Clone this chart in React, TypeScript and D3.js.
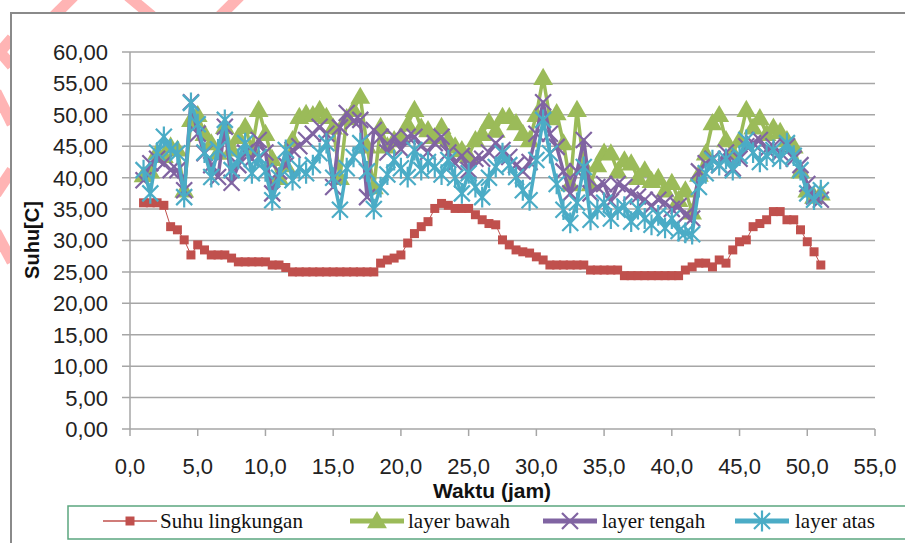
import React from 'react';
import * as d3 from 'd3';

// waktu (jam), one reading every half hour
const hours = [
  1.0, 1.5, 2.0, 2.5, 3.0, 3.5, 4.0, 4.5, 5.0, 5.5,
  6.0, 6.5, 7.0, 7.5, 8.0, 8.5, 9.0, 9.5, 10.0, 10.5,
  11.0, 11.5, 12.0, 12.5, 13.0, 13.5, 14.0, 14.5, 15.0, 15.5,
  16.0, 16.5, 17.0, 17.5, 18.0, 18.5, 19.0, 19.5, 20.0, 20.5,
  21.0, 21.5, 22.0, 22.5, 23.0, 23.5, 24.0, 24.5, 25.0, 25.5,
  26.0, 26.5, 27.0, 27.5, 28.0, 28.5, 29.0, 29.5, 30.0, 30.5,
  31.0, 31.5, 32.0, 32.5, 33.0, 33.5, 34.0, 34.5, 35.0, 35.5,
  36.0, 36.5, 37.0, 37.5, 38.0, 38.5, 39.0, 39.5, 40.0, 40.5,
  41.0, 41.5, 42.0, 42.5, 43.0, 43.5, 44.0, 44.5, 45.0, 45.5,
  46.0, 46.5, 47.0, 47.5, 48.0, 48.5, 49.0, 49.5, 50.0, 50.5,
  51.0,
];

const suhuLingkungan = [
  36.0, 36.0, 36.0, 35.6, 32.2, 31.7, 30.1, 27.7, 29.3, 28.5,
  27.7, 27.7, 27.7, 27.2, 26.6, 26.6, 26.6, 26.6, 26.6, 26.1,
  26.1, 25.7, 25.0, 25.0, 25.0, 25.0, 25.0, 25.0, 25.0, 25.0,
  25.0, 25.0, 25.0, 25.0, 25.0, 26.4, 26.9, 27.2, 27.7, 29.6,
  31.1, 32.2, 33.0, 35.1, 35.9, 35.6, 35.1, 35.1, 35.1, 34.1,
  33.3, 32.7, 32.5, 30.1, 29.3, 28.5, 28.2, 28.0, 27.4, 26.9,
  26.1, 26.1, 26.1, 26.1, 26.1, 26.1, 25.3, 25.3, 25.3, 25.3,
  25.3, 24.4, 24.4, 24.4, 24.4, 24.4, 24.4, 24.4, 24.4, 24.4,
  25.3, 25.8, 26.4, 26.4, 25.8, 26.9, 26.4, 28.5, 29.8, 30.1,
  32.2, 32.7, 33.3, 34.6, 34.6, 33.3, 33.3, 31.7, 29.8, 28.2,
  26.1,
];

const layerBawah = [
  40.4, 41.0, 44.0, 43.5, 45.0, 44.5, 38.0, 49.2, 50.0, 47.0,
  45.5, 44.0, 48.1, 44.5, 46.5, 48.1, 44.5, 50.8, 47.0, 43.0,
  40.0, 42.0, 46.0, 49.7, 50.2, 50.0, 50.8, 49.7, 48.0, 40.0,
  49.5, 50.8, 52.9, 45.0, 38.5, 48.1, 45.0, 46.0, 46.5, 48.5,
  50.8, 48.0, 47.6, 46.5, 48.1, 46.0, 45.0, 44.4, 43.5, 46.0,
  47.0, 48.9, 47.5, 49.7, 49.7, 48.7, 47.0, 46.0, 50.0, 55.9,
  49.5, 50.3, 45.5, 39.0, 50.8, 42.0, 39.0, 42.0, 44.0, 43.9,
  41.0, 42.8, 42.3, 40.0, 41.2, 39.5, 40.0, 38.0, 39.2, 36.5,
  38.0, 34.5, 40.5, 43.9, 48.7, 50.0, 46.0, 44.0, 46.0, 50.8,
  48.0, 49.5, 47.0, 48.0, 47.3, 46.0, 45.0, 41.0, 38.0, 37.0,
  37.5,
];

const layerTengah = [
  39.6, 42.3, 43.0, 42.3, 41.2, 41.2, 38.0, 52.0, 47.0, 43.9,
  42.0, 40.1, 48.1, 39.2, 42.0, 44.0, 43.0, 46.0, 44.0, 37.5,
  41.0, 42.0, 44.4, 45.0, 46.0, 47.0, 48.1, 47.0, 38.5, 48.0,
  50.3, 49.0, 49.2, 36.9, 47.6, 46.5, 44.0, 46.5, 44.5, 46.5,
  46.5, 45.0, 44.1, 45.5, 46.5, 44.0, 42.3, 43.5, 41.2, 43.0,
  43.0, 44.0, 45.5, 44.4, 43.3, 42.0, 41.0, 42.5, 47.0, 52.0,
  47.0, 44.9, 41.0, 37.5, 41.0, 46.0, 37.5, 38.5, 39.0, 36.2,
  39.0, 38.5, 37.5, 37.0, 36.5, 35.5, 36.5, 36.0, 35.0, 35.5,
  34.0, 33.5, 41.0, 42.3, 43.0, 42.0, 44.0, 41.5, 43.0, 45.0,
  45.5, 46.0, 44.5, 45.0, 44.0, 45.0, 43.0, 42.0, 39.0, 37.0,
  36.5,
];

const layerAtas = [
  41.2, 37.5, 44.0, 46.5, 44.5, 43.9, 36.9, 51.9, 48.5, 44.0,
  40.1, 44.5, 49.2, 41.2, 43.0, 45.5, 40.7, 43.3, 41.0, 36.4,
  40.0, 44.4, 39.6, 41.5, 40.7, 42.0, 43.9, 45.5, 40.0, 34.9,
  41.5, 43.3, 45.5, 41.0, 35.0, 38.5, 40.5, 42.8, 41.5, 40.1,
  44.4, 41.2, 42.5, 41.7, 40.5, 42.8, 40.0, 37.5, 40.7, 38.5,
  36.9, 40.0, 41.7, 43.9, 42.0, 40.1, 38.0, 36.4, 42.8, 49.2,
  43.9, 39.0, 34.9, 32.8, 36.0, 41.7, 33.3, 35.0, 36.0, 33.5,
  34.9, 35.4, 33.0, 35.0, 33.5, 32.5, 34.0, 32.0, 33.5, 31.5,
  31.2, 31.0, 38.5, 40.7, 42.8, 42.0, 43.0, 41.2, 43.5, 46.0,
  44.0, 42.5, 43.5, 44.4, 43.0, 45.5, 43.5, 41.2, 37.5, 36.5,
  38.0,
];

const xTicks = [0, 5, 10, 15, 20, 25, 30, 35, 40, 45, 50, 55];
const yTicks = [0, 5, 10, 15, 20, 25, 30, 35, 40, 45, 50, 55, 60];

const seriesNames = ['Suhu lingkungan', 'layer bawah', 'layer tengah', 'layer atas'];

const W = 905;
const H = 543;

const RED = '#C0504D';
const GREEN = '#9BBB59';
const PURPLE = '#8064A2';
const BLUE = '#4BACC6';

const sq = d3.symbol().type(d3.symbolSquare).size(81)();
const tri = d3.symbol().type(d3.symbolTriangle).size(170)();
const xMark = (r: number) => `M${-r},${-r}L${r},${r}M${-r},${r}L${r},${-r}`;
const star = (r: number) => `${xMark(r)}M0,${-r * 1.3}L0,${r * 1.3}`;

type Marker = 'square' | 'triangle' | 'x' | 'star';

function MarkerShape({ kind, color }: { kind: Marker; color: string }) {
  if (kind === 'square') return <path d={sq!} fill={color} />;
  if (kind === 'triangle') return <path d={tri!} fill={color} transform="translate(0,1.5)" />;
  if (kind === 'x') return <path d={xMark(8)} stroke={color} strokeWidth={2.2} fill="none" />;
  return <path d={star(8)} stroke={color} strokeWidth={2.2} fill="none" />;
}

export default function App() {
  const x = d3.scaleLinear().domain([0, 55]).range([130, 875]);
  const y = d3.scaleLinear().domain([0, 60]).range([429, 52]);

  const fmtY = (v: number) => d3.format('.2f')(v).replace('.', ',');
  const fmtX = (v: number) => d3.format('.1f')(v).replace('.', ',');

  const line = d3
    .line<number>()
    .x((_, i) => x(hours[i]))
    .y((d) => y(d));

  const series: { values: number[]; color: string; width: number; marker: Marker }[] = [
    { values: suhuLingkungan, color: RED, width: 1, marker: 'square' },
    { values: layerBawah, color: GREEN, width: 3.5, marker: 'triangle' },
    { values: layerTengah, color: PURPLE, width: 3.5, marker: 'x' },
    { values: layerAtas, color: BLUE, width: 3.5, marker: 'star' },
  ];

  // pink marks peeking out round the frame
  const pink = [
    'M74,-4L54,16', 'M128,-4L152,16', 'M240,-4L220,16',
    'M12,38L0,52L12,66', 'M-4,92L12,124', 'M12,170L-4,194', 'M-4,232L12,262',
  ];

  const legendItems = [
    { lx: 103, tx: 160 },
    { lx: 350, tx: 408 },
    { lx: 543, tx: 602 },
    { lx: 735, tx: 795 },
  ];

  return (
    <svg width={W} height={H} style={{ position: 'absolute', left: 0, top: 0 }}>
      <rect width={W} height={H} fill="#fff" />
      {pink.map((d, i) => (
        <path key={i} d={d} stroke="#ffb4b4" strokeWidth={11} fill="none" />
      ))}
      <rect x={11} y={13} width={W + 10} height={H + 10} fill="#fff" stroke="#8a8a8a" strokeWidth={2} />

      {/* grid */}
      {yTicks.map((t) => (
        <line key={t} x1={122} x2={x(55)} y1={y(t)} y2={y(t)} stroke="#a6a6a6" strokeWidth={1.5} />
      ))}
      <line x1={x(0)} x2={x(0)} y1={y(60)} y2={y(0)} stroke="#a6a6a6" strokeWidth={1.5} />
      {xTicks.map((t) => (
        <line key={t} x1={x(t)} x2={x(t)} y1={y(0)} y2={y(0) + 7} stroke="#a6a6a6" strokeWidth={1.5} />
      ))}

      {/* tick labels */}
      <g fontFamily="'Liberation Sans', Arial, sans-serif" fontSize={22} fill="#222">
        {yTicks.map((t) => (
          <text key={t} x={108} y={y(t)} dy="0.36em" textAnchor="end">
            {fmtY(t)}
          </text>
        ))}
        {xTicks.map((t) => (
          <text key={t} x={x(t)} y={474} textAnchor="middle">
            {fmtX(t)}
          </text>
        ))}
      </g>

      {/* axis titles */}
      <text
        transform="translate(39,240) rotate(-90)"
        textAnchor="middle"
        fontFamily="'Liberation Sans', Arial, sans-serif"
        fontWeight="bold"
        fontSize={20}
        fill="#111"
      >
        Suhu[C]
      </text>
      <text
        x={492}
        y={498}
        textAnchor="middle"
        fontFamily="'Liberation Sans', Arial, sans-serif"
        fontWeight="bold"
        fontSize={21}
        fill="#111"
      >
        Waktu (jam)
      </text>

      {/* series */}
      {series.map((s, si) => (
        <g key={si}>
          <path d={line(s.values)!} fill="none" stroke={s.color} strokeWidth={s.width} strokeLinejoin="round" />
          {s.values.map((v, i) => (
            <g key={i} transform={`translate(${x(hours[i])},${y(v)})`}>
              <MarkerShape kind={s.marker} color={s.color} />
            </g>
          ))}
        </g>
      ))}

      {/* legend */}
      <rect x={68} y={506} width={845} height={33} fill="#fff" stroke="#5ba67f" strokeWidth={1.5} />
      {series.map((s, i) => {
        const it = legendItems[i];
        const cx = it.lx + 27;
        return (
          <g key={i}>
            <line x1={it.lx} x2={it.lx + 54} y1={521} y2={521} stroke={s.color} strokeWidth={s.width === 1 ? 1.5 : 5} />
            <g transform={`translate(${cx},521)`}>
              <MarkerShape kind={s.marker} color={s.color} />
            </g>
            <text x={it.tx} y={528} fontFamily="'Liberation Serif', 'Times New Roman', serif" fontSize={21} fill="#111">
              {seriesNames[i]}
            </text>
          </g>
        );
      })}
    </svg>
  );
}
